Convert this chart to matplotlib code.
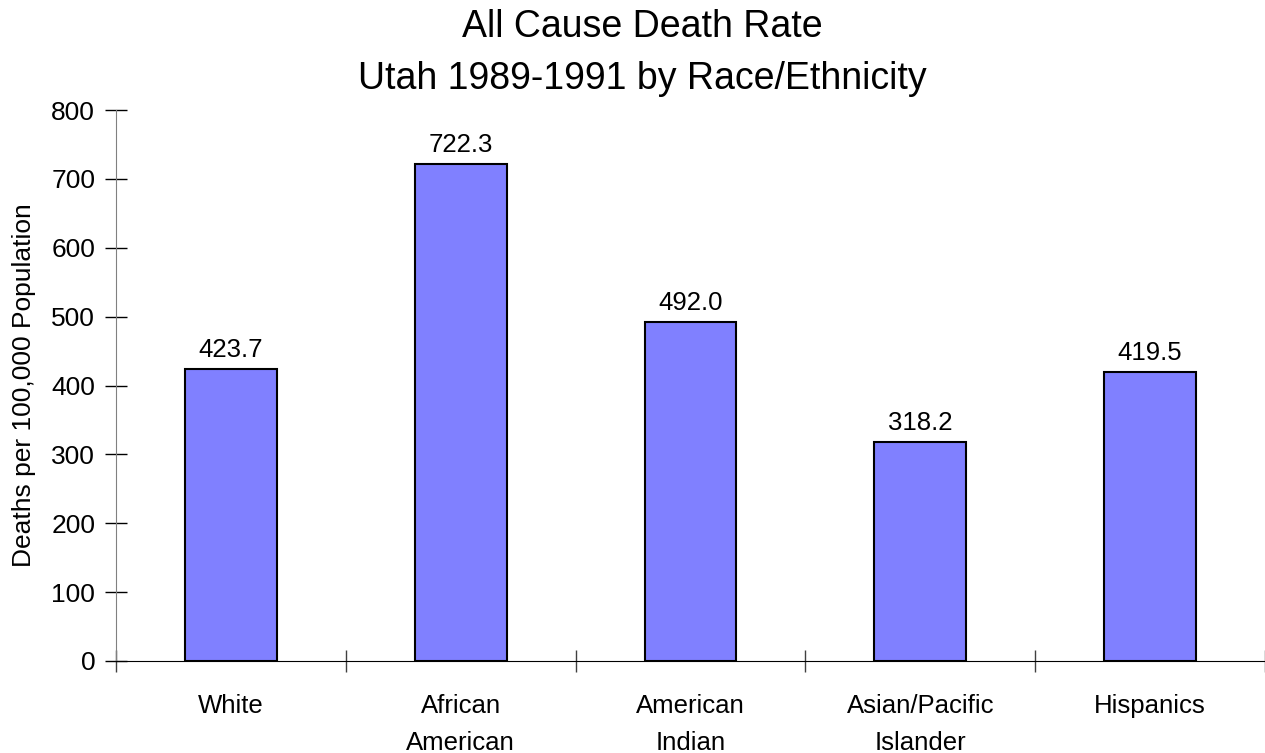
import matplotlib.pyplot as plt
import numpy as np

plt.rcParams['font.family'] = ['Liberation Sans', 'DejaVu Sans']

# data
categories = ['White', 'African\nAmerican', 'American\nIndian', 'Asian/Pacific\nIslander', 'Hispanics']
rates = [423.7, 722.3, 492.0, 318.2, 419.5]

fig = plt.figure(figsize=(12.65, 7.53), dpi=100)
ax = fig.add_axes([116 / 1265, 1 - 661 / 753, 1 - 116 / 1265, (661 - 110) / 753])

x = np.arange(len(categories))
ax.bar(x, rates, width=0.4, color='#8080ff', edgecolor='black', linewidth=1.5, zorder=3)

# value labels above the bars
for xi, v in zip(x, rates):
    ax.text(xi, v + 17, f'{v:.1f}', ha='center', va='baseline', fontsize=18.5)

ax.set_xlim(-0.5, len(categories) - 0.5)
ax.set_ylim(0, 800)
ax.set_yticks(np.arange(0, 801, 100))
ax.set_xticks(x)
ax.set_xticklabels(categories, fontsize=18.5, linespacing=1.65)
ax.set_xticks(np.arange(-0.5, len(categories)), minor=True)
ax.tick_params(axis='x', which='major', length=0, pad=24)
ax.tick_params(axis='x', which='minor', direction='inout', length=16, width=1, color='#404040')
ax.tick_params(axis='y', direction='inout', length=16, width=1, labelsize=19, pad=7)

for s in ['top', 'right']:
    ax.spines[s].set_visible(False)
ax.spines['left'].set_color('#808080')
ax.spines['bottom'].set_color('black')
ax.spines['bottom'].set_zorder(4)

ax.set_ylabel('Deaths per 100,000 Population', fontsize=19)
ax.yaxis.set_label_coords(-(116 - 36) / 1150, 0.5)
fig.text(0.508, 1 - 53 / 753, 'All Cause Death Rate\nUtah 1989-1991 by Race/Ethnicity',
         ha='center', va='center', fontsize=27, linespacing=1.55)

fig.savefig('out.png', dpi=100)
